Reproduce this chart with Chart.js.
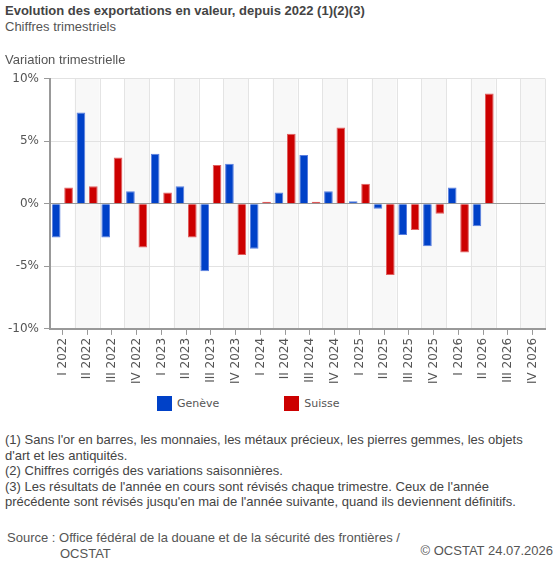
<!DOCTYPE html>
<html>
<head>
<meta charset="utf-8">
<style>
    body { margin: 0; width: 557px; height: 566px; position: relative; background: #fff;
           font-family: "Liberation Sans", Arial, sans-serif; color: #444; }
    #titre { position: absolute; left: 5px; top: 3px; font-size: 13px; font-weight: bold; color: #444; }
    #soustitre { position: absolute; left: 5px; top: 19px; font-size: 13px; color: #555; }
    #zone { position: absolute; left: 0; top: 45px; width: 557px; height: 342px; }
    #legende { position: absolute; top: 396px; left: 157px; width: 400px;
               font-family: "DejaVu Sans", Verdana, sans-serif; font-size: 11px; color: #555; }
    #legende span.item { display: inline-block; margin-right: 65px; }
    #legende span.carre { display: inline-block; width: 15px; height: 15px; vertical-align: middle; margin-right: 5px; }
    #notes { position: absolute; left: 5px; top: 432px; width: 546px; font-size: 13px; line-height: 15.5px; color: #444; }
    #source { position: absolute; left: 7px; top: 530px; font-size: 13px; line-height: 15.5px; color: #555; }
    #source span { padding-left: 53px; }
    #copy { position: absolute; right: 4px; top: 543px; font-size: 13px; color: #555; }
</style>
</head>
<body>
    <div id="titre">Evolution des exportations en valeur, depuis 2022 (1)(2)(3)</div>
    <div id="soustitre">Chiffres trimestriels</div>
    <div id="zone">
        <canvas id="graphique"></canvas>
    </div>
    <div id="legende"></div>
    <div id="notes">
        (1) Sans l'or en barres, les monnaies, les métaux précieux, les pierres gemmes, les objets d'art et les antiquités.<br>
        (2) Chiffres corrigés des variations saisonnières.<br>
        (3) Les résultats de l'année en cours sont révisés chaque trimestre. Ceux de l'année précédente sont révisés jusqu'en mai de l'année suivante, quand ils deviennent définitifs.
    </div>
    <div id="source">Source : Office fédéral de la douane et de la sécurité des frontières /<br><span>OCSTAT</span></div>
    <div id="copy">© OCSTAT 24.07.2026</div>

    <script src="https://cdn.jsdelivr.net/npm/chart.js"></script>
    <script>
        // trimestres (axe x)
        const trimestres = [
            'I 2022', 'II 2022', 'III 2022', 'IV 2022',
            'I 2023', 'II 2023', 'III 2023', 'IV 2023',
            'I 2024', 'II 2024', 'III 2024', 'IV 2024',
            'I 2025', 'II 2025', 'III 2025', 'IV 2025',
            'I 2026', 'II 2026', 'III 2026', 'IV 2026'
        ];
        // variation trimestrielle en %
        const geneve = [
            -2.7, 7.3, -2.7, 1.0,
            4.0, 1.4, -5.4, 3.2,
            -3.6, 0.9, 3.9, 1.0,
            0.2, -0.4, -2.5, -3.4,
            1.3, -1.8, null, null
        ];
        const suisse = [
            1.3, 1.4, 3.7, -3.5,
            0.9, -2.7, 3.1, -4.1,
            0.15, 5.6, 0.15, 6.1,
            1.6, -5.7, -2.1, -0.8,
            -3.9, 8.8, null, null
        ];
        const yTicks = [-10, -5, 0, 5, 10];

        const series = [
            { nom: 'Genève', data: geneve, couleur: '#0041c8', bord: '#5a7fe0' },
            { nom: 'Suisse', data: suisse, couleur: '#cc0000', bord: '#e06060' }
        ];

        // bandes alternées + séparateurs de catégories
        const bandes = {
            id: 'bandes',
            beforeDraw(chart) {
                const { ctx, chartArea: a, scales: { x } } = chart;
                const w = x.getPixelForValue(1) - x.getPixelForValue(0);
                ctx.save();
                trimestres.forEach((t, i) => {
                    const x0 = x.getPixelForValue(i) - w / 2;
                    if (i % 2 === 1) {
                        ctx.fillStyle = '#f8f8f8';
                        ctx.fillRect(x0, a.top, w, a.bottom - a.top);
                    }
                });
                ctx.strokeStyle = '#e4e4e4';
                ctx.lineWidth = 1;
                for (let i = 1; i <= trimestres.length; i++) {
                    const xx = Math.round(x.getPixelForValue(i) - w / 2) + 0.5;
                    ctx.beginPath();
                    ctx.moveTo(xx, a.top);
                    ctx.lineTo(xx, a.bottom);
                    ctx.stroke();
                }
                ctx.restore();
            }
        };

        new Chart(document.getElementById('graphique'), {
            type: 'bar',
            data: {
                labels: trimestres,
                datasets: series.map(s => ({
                    label: s.nom,
                    data: s.data,
                    backgroundColor: s.couleur,
                    borderColor: s.bord,
                    borderWidth: 1,
                    barPercentage: 0.7,
                    categoryPercentage: 1
                }))
            },
            options: {
                responsive: true,
                maintainAspectRatio: false,
                animation: false,
                layout: { padding: { left: 5, right: 12 } },
                plugins: {
                    legend: { display: false },
                    tooltip: { enabled: false },
                    title: {
                        display: true,
                        text: 'Variation trimestrielle',
                        align: 'start',
                        color: '#555',
                        font: { family: '"Liberation Sans", Arial', size: 13, weight: 'normal' },
                        padding: { top: 8, bottom: 10 }
                    }
                },
                scales: {
                    x: {
                        grid: { offset: false, drawOnChartArea: false, tickLength: 6, tickColor: '#999' },
                        border: { color: '#999', width: 2 },
                        ticks: {
                            maxRotation: 90, minRotation: 90, padding: 3,
                            color: '#555',
                            font: { family: '"DejaVu Sans", Verdana', size: 12 }
                        }
                    },
                    y: {
                        min: -10, max: 10,
                        afterBuildTicks(scale) { scale.ticks = yTicks.map(v => ({ value: v })); },
                        afterFit(scale) { scale.width = 45; },
                        grid: {
                            color: c => c.tick && c.tick.value === 0 ? '#999' : '#e2e2e2',
                            tickColor: '#999', tickLength: 6
                        },
                        border: { color: '#999', width: 2 },
                        ticks: {
                            padding: 5,
                            color: '#555',
                            font: { family: '"DejaVu Sans", Verdana', size: 12 },
                            callback: v => v + '%'
                        }
                    }
                }
            },
            plugins: [bandes]
        });

        // légende construite à partir des séries
        document.getElementById('legende').innerHTML = series.map(s =>
            '<span class="item"><span class="carre" style="background:' + s.couleur + '"></span>' + s.nom + '</span>'
        ).join('');
    </script>
</body>
</html>
